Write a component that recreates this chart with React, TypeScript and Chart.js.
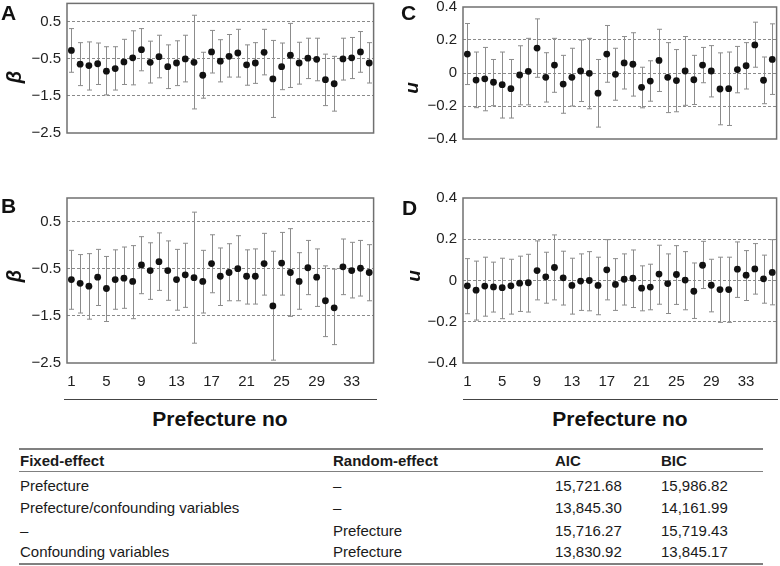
import React, { useEffect, useRef } from 'react';
import { Chart, registerables } from 'chart.js';

Chart.register(...registerables);

const FONT = "'Liberation Sans', Arial, Helvetica, sans-serif";

// Categories (prefecture numbers)
const prefNosAB = ['1','2','3','4','5','6','7','8','9','10','11','12','13','14','15','16','17','18','19','20','21','22','23','24','25','26','27','28','29','30','31','32','33','34','35'];
const prefNosCD = ['1','2','3','4','5','6','7','8','9','10','11','12','13','14','15','16','17','18','19','20','21','22','23','24','25','26','27','28','29','30','31','32','33','34','35','36'];
const xTickLabels = ['1','5','9','13','17','21','25','29','33'];

// Axis ticks
const betaTicks = [-2.5, -1.5, -0.5, 0.5];
const uTicks = [-0.4, -0.2, 0, 0.2, 0.4];

// Panel A: beta estimates
const betaA = [-0.27,-0.64,-0.68,-0.63,-0.83,-0.76,-0.58,-0.47,-0.25,-0.59,-0.44,-0.71,-0.61,-0.50,-0.59,-0.94,-0.31,-0.56,-0.43,-0.34,-0.66,-0.61,-0.32,-1.04,-0.71,-0.40,-0.61,-0.48,-0.51,-1.06,-1.17,-0.50,-0.47,-0.31,-0.61];
const betaAHigh = [0.32,-0.06,-0.04,-0.07,-0.17,-0.17,0.03,0.26,0.32,-0.02,0.14,-0.12,-0.01,0.14,0.68,-0.32,0.27,0.02,0.16,0.30,-0.12,-0.06,0.30,0.00,-0.07,0.46,-0.05,0.06,0.06,-0.37,-0.43,0.06,0.08,0.24,-0.06];
const betaALow = [-0.86,-1.22,-1.34,-1.19,-1.47,-1.34,-1.19,-1.20,-0.82,-1.15,-1.01,-1.30,-1.22,-1.12,-1.85,-1.56,-0.88,-1.12,-0.99,-0.99,-1.21,-1.16,-0.93,-2.08,-1.33,-1.27,-1.18,-1.03,-1.09,-1.76,-1.91,-1.07,-1.03,-0.86,-1.15];

// Panel B: beta estimates
const betaB = [-0.73,-0.81,-0.87,-0.68,-0.92,-0.73,-0.70,-0.77,-0.42,-0.54,-0.35,-0.54,-0.73,-0.63,-0.69,-0.77,-0.39,-0.66,-0.58,-0.50,-0.66,-0.66,-0.39,-1.29,-0.38,-0.58,-0.77,-0.48,-0.68,-1.18,-1.33,-0.46,-0.54,-0.49,-0.58];
const betaBHigh = [-0.11,-0.20,-0.18,-0.09,-0.24,-0.10,-0.04,-0.01,0.18,0.05,0.26,0.09,-0.09,0.04,0.70,-0.11,0.22,-0.06,0.03,0.20,-0.10,-0.08,0.25,-0.13,0.27,0.35,-0.16,0.10,-0.08,-0.44,-0.51,0.13,0.06,0.10,0.01];
const betaBLow = [-1.36,-1.44,-1.57,-1.28,-1.62,-1.36,-1.34,-1.56,-1.03,-1.15,-0.96,-1.17,-1.38,-1.32,-2.08,-1.44,-1.01,-1.28,-1.18,-1.18,-1.25,-1.25,-1.06,-2.44,-1.06,-1.51,-1.36,-1.05,-1.30,-1.94,-2.11,-1.05,-1.12,-1.08,-1.18];

// Panel C: u estimates
const uC = [0.115,-0.043,-0.035,-0.056,-0.071,-0.095,-0.012,0.010,0.151,-0.026,0.048,-0.067,-0.026,0.012,-0.002,-0.122,0.115,-0.008,0.061,0.053,-0.087,-0.049,0.076,-0.026,-0.046,0.012,-0.041,0.048,0.012,-0.097,-0.095,0.021,0.044,0.170,-0.044,0.082];
const uCHigh = [0.30,0.127,0.155,0.082,0.127,0.082,0.165,0.21,0.328,0.123,0.21,0.107,0.15,0.20,0.21,0.082,0.288,0.15,0.221,0.244,0.035,0.074,0.265,0.184,0.142,0.221,0.107,0.155,0.166,0.122,0.127,0.161,0.184,0.308,0.097,0.298];
const uCLow = [-0.07,-0.21,-0.229,-0.198,-0.273,-0.273,-0.193,-0.193,-0.026,-0.176,-0.117,-0.244,-0.20,-0.173,-0.217,-0.328,-0.056,-0.165,-0.097,-0.14,-0.211,-0.171,-0.112,-0.24,-0.235,-0.196,-0.191,-0.059,-0.145,-0.314,-0.318,-0.12,-0.097,0.035,-0.186,-0.13];

// Panel D: u estimates
const uD = [-0.026,-0.047,-0.027,-0.031,-0.035,-0.026,-0.013,-0.011,0.048,0.018,0.063,0.013,-0.024,-0.003,0.0,-0.024,0.052,-0.019,0.006,0.011,-0.037,-0.032,0.031,-0.015,0.029,0.002,-0.052,0.074,-0.023,-0.044,-0.044,0.055,0.026,0.056,0.008,0.039];
const uDHigh = [0.106,0.094,0.113,0.089,0.108,0.103,0.118,0.127,0.192,0.137,0.221,0.142,0.108,0.129,0.14,0.113,0.198,0.106,0.129,0.148,0.071,0.079,0.171,0.129,0.169,0.14,0.085,0.19,0.103,0.113,0.113,0.187,0.145,0.179,0.123,0.198];
const uDLow = [-0.161,-0.192,-0.173,-0.153,-0.185,-0.163,-0.15,-0.153,-0.094,-0.11,-0.094,-0.119,-0.163,-0.145,-0.147,-0.166,-0.094,-0.145,-0.119,-0.131,-0.147,-0.142,-0.115,-0.16,-0.116,-0.142,-0.184,-0.039,-0.152,-0.203,-0.203,-0.082,-0.097,-0.066,-0.11,-0.118];

// Table
const tableHeaders = ['Fixed-effect', 'Random-effect', 'AIC', 'BIC'];
const fixedEffects = ['Prefecture', 'Prefecture/confounding variables', '–', 'Confounding variables'];
const randomEffects = ['–', '–', 'Prefecture', 'Prefecture'];
const aicValues = ['15,721.68', '13,845.30', '15,716.27', '13,830.92'];
const bicValues = ['15,986.82', '14,161.99', '15,719.43', '13,845.17'];

function fmtTick(v: number): string {
  if (Math.abs(v) < 1e-9) return '0';
  return (v < 0 ? '\u2212' : '') + Math.abs(v).toFixed(1);
}

function makeErrorBarPlugin(low: number[], high: number[]) {
  return {
    id: 'errorBars',
    beforeDatasetsDraw(chart: any) {
      const { ctx, scales } = chart;
      const x = scales.x, y = scales.y;
      ctx.save();
      ctx.strokeStyle = '#8c8c8c';
      ctx.lineWidth = 1;
      for (let i = 0; i < low.length; i++) {
        const px = Math.round(x.getPixelForValue(i)) + 0.5;
        const yl = y.getPixelForValue(low[i]);
        const yh = y.getPixelForValue(high[i]);
        ctx.beginPath();
        ctx.moveTo(px, yl);
        ctx.lineTo(px, yh);
        ctx.moveTo(px - 2.5, yl);
        ctx.lineTo(px + 2.5, yl);
        ctx.moveTo(px - 2.5, yh);
        ctx.lineTo(px + 2.5, yh);
        ctx.stroke();
      }
      ctx.restore();
    },
    afterDatasetsDraw(chart: any) {
      const { ctx, chartArea } = chart;
      ctx.save();
      ctx.strokeStyle = '#707070';
      ctx.lineWidth = 1.5;
      ctx.strokeRect(chartArea.left, chartArea.top, chartArea.right - chartArea.left, chartArea.bottom - chartArea.top);
      ctx.restore();
    },
  };
}

type PanelProps = {
  left: number; top: number; width: number; height: number;
  labels: string[]; values: number[]; low: number[]; high: number[];
  yMin: number; yMax: number; yTicks: number[]; yAxisWidth: number;
  padTop: number; padRight: number; padBottom: number; showX: boolean;
};

function Panel(p: PanelProps) {
  const ref = useRef<HTMLCanvasElement>(null);
  useEffect(() => {
    const chart = new Chart(ref.current as HTMLCanvasElement, {
      type: 'line',
      data: {
        labels: p.labels,
        datasets: [{
          data: p.values,
          showLine: false,
          pointRadius: 3.4,
          pointHoverRadius: 3.4,
          pointBackgroundColor: '#111',
          pointBorderColor: '#111',
          pointBorderWidth: 0,
        }],
      },
      options: {
        animation: false,
        responsive: false,
        maintainAspectRatio: false,
        devicePixelRatio: 1,
        layout: { padding: { top: p.padTop, right: p.padRight, bottom: p.padBottom, left: 0 } },
        plugins: { legend: { display: false }, tooltip: { enabled: false } },
        events: [],
        scales: {
          x: {
            type: 'category',
            offset: true,
            display: p.showX,
            grid: { display: false, drawTicks: false },
            border: { display: false },
            ticks: {
              autoSkip: false,
              maxRotation: 0,
              minRotation: 0,
              padding: 10,
              color: '#222',
              font: { family: FONT, size: 15 },
              callback: function (this: any, val: any) {
                const l = this.getLabelForValue(val);
                return xTickLabels.includes(l) ? l : '';
              },
            },
            afterFit: (s: any) => { s.height = 30; s.paddingLeft = 0; s.paddingRight = 0; },
          },
          y: {
            type: 'linear',
            min: p.yMin,
            max: p.yMax,
            afterBuildTicks: (s: any) => { s.ticks = p.yTicks.map((v) => ({ value: v })); },
            afterFit: (s: any) => { s.width = p.yAxisWidth; s.paddingTop = 0; s.paddingBottom = 0; },
            grid: {
              drawTicks: false,
              lineWidth: 1,
              color: (ctx: any) => {
                const v = ctx.tick ? ctx.tick.value : null;
                if (v === null || Math.abs(v - p.yMin) < 1e-9 || Math.abs(v - p.yMax) < 1e-9) return 'rgba(0,0,0,0)';
                return '#8a8a8a';
              },
            },
            border: { display: false, dash: [3, 2] },
            ticks: {
              padding: 6,
              color: '#222',
              font: { family: FONT, size: 15 },
              callback: (v: any) => fmtTick(Number(v)),
            },
          },
        },
      },
      plugins: [makeErrorBarPlugin(p.low, p.high)],
    } as any);
    return () => chart.destroy();
  }, []);
  return (
    <canvas
      ref={ref}
      width={p.width}
      height={p.height}
      style={{ position: 'absolute', left: p.left, top: p.top, width: p.width, height: p.height }}
    />
  );
}

const abs = (extra: React.CSSProperties): React.CSSProperties => ({ position: 'absolute', ...extra });

function RotLabel({ text, cx, cy, size }: { text: string; cx: number; cy: number; size: number }) {
  return (
    <div style={abs({ left: cx, top: cy, transform: 'translate(-50%, -50%) rotate(-90deg)', font: `italic bold ${size}px ${FONT}`, lineHeight: 1, color: '#111', whiteSpace: 'nowrap' })}>
      {text}
    </div>
  );
}

export default function App() {
  const letter = (t: string, left: number, top: number) => (
    <div style={abs({ left, top, font: `bold 21px ${FONT}`, lineHeight: 1, color: '#111' })}>{t}</div>
  );
  const colX = [20, 333, 555, 661];
  const rowCY = [486.7, 509.3, 531.7, 552.7];
  const cell = (t: string, x: number, cy: number, bold: boolean, key: string) => (
    <div key={key} style={abs({ left: x, top: cy - 10, height: 20, lineHeight: '20px', font: `${bold ? 'bold ' : ''}15px ${FONT}`, color: '#1a1a1a', whiteSpace: 'nowrap' })}>{t}</div>
  );
  return (
    <div style={abs({ left: 0, top: 0, width: 780, height: 566, background: '#fff', overflow: 'hidden', fontFamily: FONT })}>
      <Panel left={0} top={0} width={377} height={166} labels={prefNosAB} values={betaA} low={betaALow} high={betaAHigh}
        yMin={-2.5} yMax={1.0} yTicks={betaTicks} yAxisWidth={67} padTop={2} padRight={3} padBottom={3} showX={false} />
      <Panel left={0} top={190} width={377} height={203} labels={prefNosAB} values={betaB} low={betaBLow} high={betaBHigh}
        yMin={-2.5} yMax={1.0} yTicks={betaTicks} yAxisWidth={67} padTop={8} padRight={3} padBottom={0} showX={true} />
      <Panel left={390} top={0} width={390} height={172} labels={prefNosCD} values={uC} low={uCLow} high={uCHigh}
        yMin={-0.4} yMax={0.4} yTicks={uTicks} yAxisWidth={73} padTop={7} padRight={2} padBottom={3} showX={false} />
      <Panel left={390} top={188} width={390} height={205} labels={prefNosCD} values={uD} low={uDLow} high={uDHigh}
        yMin={-0.4} yMax={0.4} yTicks={uTicks} yAxisWidth={73} padTop={10} padRight={2} padBottom={0} showX={true} />

      {letter('A', 1, 2)}
      {letter('B', 1, 195)}
      {letter('C', 401, 2)}
      {letter('D', 402, 197)}

      <RotLabel text="β" cx={14} cy={77} size={20} />
      <RotLabel text="β" cx={14} cy={276} size={20} />
      <RotLabel text="u" cx={411} cy={88} size={19} />
      <RotLabel text="u" cx={413} cy={276} size={19} />

      <div style={abs({ left: 64, top: 399, width: 313, height: 1, background: '#444' })} />
      <div style={abs({ left: 463, top: 399, width: 315, height: 1, background: '#444' })} />
      <div style={abs({ left: 120, top: 406, width: 200, textAlign: 'center', font: `bold 21px ${FONT}`, lineHeight: '26px', color: '#111' })}>Prefecture no</div>
      <div style={abs({ left: 520, top: 406, width: 200, textAlign: 'center', font: `bold 21px ${FONT}`, lineHeight: '26px', color: '#111' })}>Prefecture no</div>

      <div style={abs({ left: 19, top: 448, width: 744, height: 2, background: '#808080' })} />
      <div style={abs({ left: 19, top: 471, width: 744, height: 1, background: '#808080' })} />
      <div style={abs({ left: 19, top: 563, width: 744, height: 2, background: '#808080' })} />

      {tableHeaders.map((h, i) => cell(h, colX[i], 462, true, 'h' + i))}
      {fixedEffects.map((t, r) => cell(t, colX[0], rowCY[r], false, 'f' + r))}
      {randomEffects.map((t, r) => cell(t, colX[1], rowCY[r], false, 'r' + r))}
      {aicValues.map((t, r) => cell(t, colX[2], rowCY[r], false, 'a' + r))}
      {bicValues.map((t, r) => cell(t, colX[3], rowCY[r], false, 'b' + r))}
    </div>
  );
}
